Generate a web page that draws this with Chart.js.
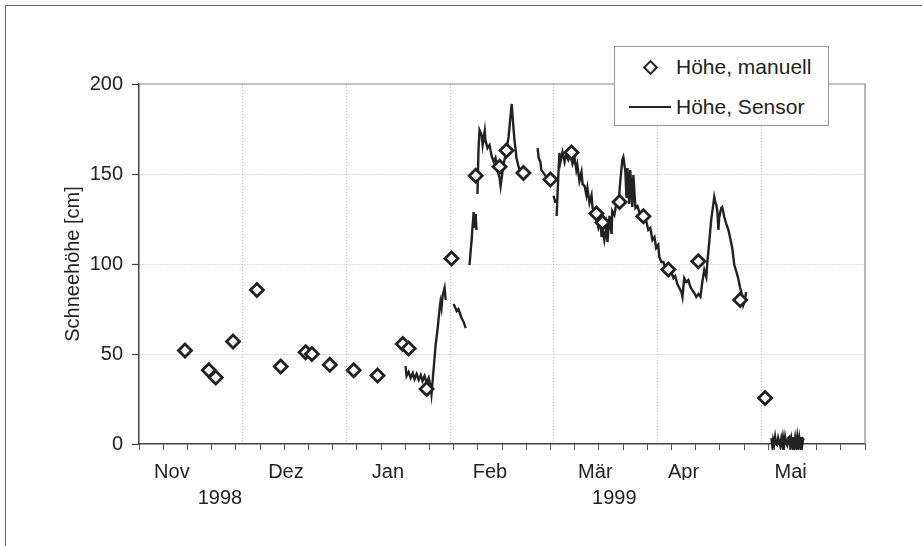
<!DOCTYPE html>
<html>
<head>
<meta charset="utf-8">
<script src="https://cdn.jsdelivr.net/npm/chart.js@4.4.1/dist/chart.umd.min.js"></script>
<style>
  html, body { margin: 0; padding: 0; background: #fff; }
  #wrap { position: relative; width: 922px; height: 546px; overflow: hidden;
          font-family: 'Liberation Sans', Arial, sans-serif; color: #222; }
  #frame { position: absolute; left: 5px; top: 5px; right: -4px; bottom: -4px;
           border-top: 1.5px solid #666; border-left: 1.5px solid #666; }
  #chart { position: absolute; left: 0; top: 0; }
  #legend { position: absolute; left: 614px; top: 46px; width: 213px; height: 78px;
            border: 1px solid #999; background: #fff; font-size: 21px; }
  #legend .row { position: absolute; left: 0; right: 0; height: 0; }
  #legend .txt { position: absolute; left: 61px; top: -13px; white-space: nowrap; line-height: 26px; }
  #legend .dia { position: absolute; left: 30px; top: -5px; width: 7px; height: 7px;
                 border: 2.5px solid #222; background: #fff; transform: rotate(45deg); }
  #legend .ln { position: absolute; left: 14px; width: 42px; top: -1px; height: 0; border-top: 2px solid #222; }
</style>
</head>
<body>
<div id="wrap">
  <div id="frame"></div>
  <canvas id="chart" width="922" height="546"></canvas>
  <div id="legend">
    <div class="row" style="top:20px"><span class="dia"></span><span class="txt">Höhe, manuell</span></div>
    <div class="row" style="top:60px"><span class="ln"></span><span class="txt">Höhe, Sensor</span></div>
  </div>
</div>
<script>
/* Schneehöhe Winter 1998/99 — x in Tagen ab 22.10.1998 (linker Achsenrand) */

// Handmessungen (wöchentlich)
var manualDays   = [13.3, 20.2, 22.2, 27.2, 34.1, 41.0, 48.2, 50.0, 55.2, 62.1, 69.0, 76.3, 78.0, 83.2,
                    90.4, 97.4, 104.3, 106.3, 111.2, 119.0, 125.1, 132.3, 134.1, 139.0, 145.9, 153.1,
                    161.8, 173.9, 181.1];
var manualValues = [52, 41, 37, 57, 85.5, 43, 51, 50, 44, 41, 38, 55.5, 53, 30.5,
                    103, 149, 154, 163, 150.5, 147, 162, 128, 123, 134.5, 126.5, 97,
                    101.5, 80, 25.5];

// Sensor (null = Datenlücke)
var sensorDays = [
  77.1, 77.4, 78.0, 78.6, 79.2, 79.7, 80.3, 80.9, 81.5, 82.0, 82.6, 83.2, 83.8, 84.4, 84.6,
  85.2, 85.8, 86.4, 86.9, 87.2, 87.5, 87.8, 88.4, 88.7, 89.8,
  91.0, 91.9, 92.4, 93.3, 93.9, 94.5, 95.0,
  95.6, 96.2, 96.5, 96.8, 97.1, 97.4, 97.6, 97.8,
  97.9, 98.2, 98.5, 99.1, 99.4, 100.0, 100.2, 100.8, 101.4, 102.0, 102.6, 103.1, 103.7, 104.3,
  104.6, 105.2, 105.7, 106.3, 106.9, 107.5, 107.8, 108.1, 108.6, 109.2, 109.8, 110.4, 110.9, 113.0,
  115.3, 115.6, 116.1, 116.4, 117.0, 117.6, 118.8,
  119.9, 120.5, 120.7,
  120.8, 121.3, 121.6, 121.9, 122.5, 123.1, 123.6, 124.2, 124.8, 125.4, 126.0, 126.5, 126.8,
  127.4, 128.0, 128.3, 128.9, 129.4, 129.7, 130.3, 130.9, 131.2, 131.7, 132.3, 132.9, 133.5,
  133.8, 134.1, 134.6, 135.2, 135.5, 136.1, 136.7, 136.9, 137.5, 138.1, 138.7, 139.2, 139.8,
  140.1, 140.7, 141.0, 141.3, 141.8, 142.1, 142.7, 143.0, 143.6, 144.2, 144.7, 145.3, 145.9,
  146.8, 147.3, 147.9, 148.5, 149.1, 149.6, 150.2, 150.5, 151.1, 151.7, 152.2, 152.8, 153.4,
  154.0, 154.6, 155.1, 155.7, 156.3, 156.9, 157.2, 157.7, 158.3, 158.9, 159.5, 160.0, 160.6,
  161.2, 161.8, 162.4, 162.9, 163.5, 164.1, 164.4, 165.0, 165.5, 166.1, 166.4, 166.7, 167.0,
  167.3, 167.6, 167.8, 168.4, 168.7, 169.3, 169.9, 170.5, 171.0, 171.6, 172.2, 172.8, 173.3,
  173.9, 174.5, 174.8, 175.3, 175.6, 179.0,
  182.9, 183.2, 183.4, 183.7, 184.0, 184.3, 184.6, 184.9, 185.2, 185.5, 185.8, 186.1, 186.3,
  186.6, 186.9, 187.2, 187.5, 187.8, 188.1, 188.4, 188.7, 189.0, 189.2, 189.5, 189.8, 190.1,
  190.4, 190.7, 191.0, 191.3, 191.5, 191.8, 192.1, 192.4
];
var sensorValues = [
  43.3, 37.8, 40.0, 36.7, 39.4, 36.1, 38.9, 35.6, 38.3, 35.0, 37.8, 33.9, 36.7, 31.1, 27.8,
  41.1, 55.0, 64.4, 74.4, 78.9, 75.6, 82.2, 86.7, 80.0, null,
  77.8, 73.9, 75.0, 70.0, 67.8, 64.4, null,
  99.4, 113.3, 121.1, 128.9, 120.0, 127.8, 118.9, null,
  138.9, 163.3, 174.4, 171.7, 166.1, 173.9, 168.9, 164.4, 166.1, 160.0, 156.7, 158.9, 152.2, 147.8,
  143.3, 152.2, 157.8, 163.3, 170.6, 182.8, 188.9, 181.1, 168.9, 158.9, 153.9, 151.1, 148.9, null,
  164.4, 158.9, 156.7, 152.2, 150.6, 148.9, null,
  137.8, 133.9, null,
  126.7, 149.4, 161.7, 156.7, 162.2, 156.7, 161.1, 157.8, 160.6, 155.6, 158.9, 152.2, 155.0,
  146.1, 151.1, 144.4, 143.3, 138.3, 142.2, 133.9, 138.3, 131.1, 129.4, 125.6, 120.0, 123.3,
  115.0, 119.4, 113.3, 121.1, 112.2, 126.7, 116.7, 129.4, 127.2, 133.9, 133.3, 145.6, 157.8,
  159.4, 151.1, 136.7, 153.3, 133.3, 152.2, 131.7, 149.4, 131.1, 132.2, 128.9, 125.6, 126.7,
  123.3, 118.9, 120.0, 113.3, 115.0, 108.9, 110.6, 103.9, 101.1, 101.1, 97.8, 96.7, 94.4,
  95.6, 92.2, 93.3, 88.9, 86.7, 84.4, 81.7, 92.2, 90.0, 91.1, 87.2, 85.6, 83.9,
  81.7, 83.3, 81.7, 89.4, 96.7, 92.8, 101.1, 113.3, 124.4, 132.8, 137.2, 134.4, 132.8,
  128.9, 118.9, 125.6, 131.1, 131.7, 126.1, 122.2, 118.9, 114.4, 108.9, 99.4, 95.6, 92.2,
  86.7, 82.2, 77.2, 80.0, 84.4, null,
  3.3, -1.1, 2.2, -0.6, 3.9, 0.0, -0.6, 3.3, 1.1, -1.1, 2.8, -0.6, 3.3,
  -1.1, 3.9, 0.6, -0.6, 3.3, 3.9, -1.7, 2.8, -1.1, 3.9, -1.7, 3.3, -1.1,
  3.9, -1.7, 3.3, -1.1, 3.9, -1.1, 2.8, 2.2
];

// Achsenbeschriftung
var monthLabels = ['Nov', 'Dez', 'Jan', 'Feb', 'Mär', 'Apr', 'Mai'];
var monthDays   = [9.5, 42.5, 72, 101.5, 132, 157.5, 188.5];
var yearLabels  = ['1998', '1999'];
var yearDays    = [23.4, 137.5];
var yTicks      = [0, 50, 100, 150, 200];

var X_MIN = 0, X_MAX = 210;
var FONT = { family: "'Liberation Sans', Arial, sans-serif", size: 20 };
var INK = '#222';

function zip(xs, ys) {
  return xs.map(function (x, i) { return { x: x, y: ys[i] }; });
}
function fixedTicks(values) {
  return function (axis) { axis.ticks = values.map(function (v) { return { value: v }; }); };
}
function range(a, b, step) {
  var out = [];
  for (var v = a; v <= b + 1e-9; v += step) out.push(v);
  return out;
}

// Rahmen oben/rechts um die Zeichenfläche
var plotFrame = {
  id: 'plotFrame',
  beforeDatasetsDraw: function (chart) {
    var a = chart.chartArea, ctx = chart.ctx;
    ctx.save();
    ctx.strokeStyle = '#888';
    ctx.lineWidth = 1.2;
    ctx.beginPath();
    ctx.moveTo(a.left, a.top);
    ctx.lineTo(a.right, a.top);
    ctx.lineTo(a.right, a.bottom);
    ctx.stroke();
    ctx.restore();
  }
};

new Chart(document.getElementById('chart'), {
  type: 'line',
  data: {
    datasets: [{
      label: 'Höhe, manuell',
      data: zip(manualDays, manualValues),
      showLine: false,
      pointStyle: 'rectRot',
      pointRadius: 6.5,
      pointBorderWidth: 2.8,
      pointBorderColor: INK,
      pointBackgroundColor: '#fff',
      clip: false
    }, {
      label: 'Höhe, Sensor',
      data: zip(sensorDays, sensorValues),
      borderColor: INK,
      borderWidth: 2.4,
      pointRadius: 0,
      tension: 0,
      spanGaps: false,
      clip: { left: 2, top: 2, right: 2, bottom: 6 }
    }]
  },
  options: {
    responsive: false,
    animation: false,
    events: [],
    layout: { padding: { left: 57, top: 84, right: 57, bottom: 36 } },
    plugins: { legend: { display: false }, tooltip: { enabled: false } },
    scales: {
      x: {
        type: 'linear', min: X_MIN, max: X_MAX, weight: 0,
        afterBuildTicks: fixedTicks(range(X_MIN, X_MAX, 30)),
        afterFit: function (s) { s.height = 0; },
        grid: {
          color: function (c) { return (c.tick && (c.tick.value === X_MIN || c.tick.value === X_MAX)) ? 'rgba(0,0,0,0)' : '#bdbdbd'; },
          lineWidth: 1, drawTicks: false
        },
        border: { color: '#444', width: 1.5, dash: [1, 2] },
        ticks: { display: false }
      },
      xw: {
        type: 'linear', position: 'bottom', min: X_MIN, max: X_MAX, weight: 1,
        afterBuildTicks: fixedTicks(range(X_MIN, X_MAX, 7)),
        afterFit: function (s) { s.height = 6; },
        grid: { drawOnChartArea: false, drawTicks: true, tickLength: 6, tickColor: '#555', tickWidth: 1, tickBorderDash: [] },
        border: { display: false },
        ticks: { display: false }
      },
      xm: {
        type: 'linear', position: 'bottom', min: X_MIN, max: X_MAX, weight: 2,
        afterBuildTicks: fixedTicks(monthDays),
        afterFit: function (s) { s.height = 30; },
        grid: { display: false, drawTicks: false },
        border: { display: false },
        ticks: {
          autoSkip: false, maxRotation: 0, padding: 10, color: INK, font: FONT,
          callback: function (v, i) { return monthLabels[i]; }
        }
      },
      xy: {
        type: 'linear', position: 'bottom', min: X_MIN, max: X_MAX, weight: 3,
        afterBuildTicks: fixedTicks(yearDays),
        afterFit: function (s) { s.height = 30; },
        grid: { display: false, drawTicks: false },
        border: { display: false },
        ticks: {
          autoSkip: false, maxRotation: 0, padding: 6, color: INK, font: FONT,
          callback: function (v, i) { return yearLabels[i]; }
        }
      },
      y: {
        min: 0, max: 200,
        afterBuildTicks: fixedTicks(yTicks),
        afterFit: function (s) { s.width = 82; },
        grid: {
          color: function (c) { return (c.tick && (c.tick.value === 0 || c.tick.value === 200)) ? 'rgba(0,0,0,0)' : '#bdbdbd'; },
          lineWidth: 1, tickLength: 7, tickColor: '#444', tickWidth: 1.2, tickBorderDash: []
        },
        border: { color: '#444', width: 1.5, dash: [1, 2] },
        ticks: { color: INK, font: FONT, padding: 9 },
        title: { display: true, text: 'Schneehöhe [cm]', color: INK, font: FONT, padding: { top: 4, bottom: 0 } }
      }
    }
  },
  plugins: [plotFrame]
});
</script>
</body>
</html>
